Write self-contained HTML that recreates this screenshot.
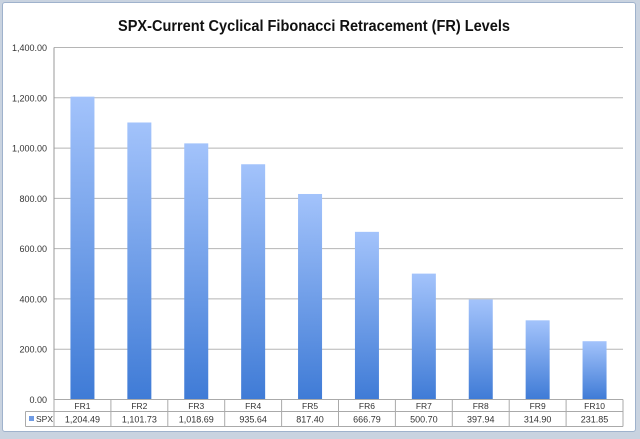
<!DOCTYPE html>
<html><head><meta charset="utf-8"><style>
html,body{margin:0;padding:0;background:#c9d3e0;}
body{width:640px;height:439px;overflow:hidden;position:relative;font-family:"Liberation Sans",sans-serif;}
#frame{position:absolute;left:2px;top:2px;width:632px;height:428px;background:#fff;border:1px solid #9fb2cc;border-radius:3px;}
</style></head><body>
<div id="frame"></div>
<svg id="chart" width="640" height="439" style="position:absolute;left:0;top:0">
<defs><linearGradient id="bg" x1="0" y1="0" x2="0" y2="1"><stop offset="0" stop-color="#a3c3fb"/><stop offset="1" stop-color="#3f7bd6"/></linearGradient></defs>
<text x="314" y="31" text-anchor="middle" font-size="16" font-weight="bold" fill="#111" textLength="392" lengthAdjust="spacingAndGlyphs">SPX-Current Cyclical Fibonacci Retracement (FR) Levels</text>
<g id="grid"></g><g id="bars"></g><g id="table"></g>
</svg>
<script>
const categories=["FR1","FR2","FR3","FR4","FR5","FR6","FR7","FR8","FR9","FR10"];
const values=[1204.49,1101.73,1018.69,935.64,817.40,666.79,500.70,397.94,314.90,231.85];
const valueLabels=["1,204.49","1,101.73","1,018.69","935.64","817.40","666.79","500.70","397.94","314.90","231.85"];
const yTicks=[0,200,400,600,800,1000,1200,1400];
const yTickLabels=["0.00","200.00","400.00","600.00","800.00","1,000.00","1,200.00","1,400.00"];
const NS="http://www.w3.org/2000/svg";
const L=54,R=623,T=47.5,B=399.5,yMax=1400;
const y=v=>B-(v/yMax)*(B-T);
const bw=(R-L)/categories.length;
const x=i=>L+i*bw;
function mk(tag,attrs,parent,text){const e=document.createElementNS(NS,tag);for(const k in attrs)e.setAttribute(k,attrs[k]);if(text!=null)e.textContent=text;parent.appendChild(e);return e;}
const grid=document.getElementById('grid'),bars=document.getElementById('bars'),table=document.getElementById('table');
yTicks.forEach((t,i)=>{
  if(t>0){const g=mk('line',{x1:L,x2:R,y1:y(t),y2:y(t),stroke:'#b5b5b5','stroke-width':1},grid);
  
  }
  const lb=mk('text',{x:47,y:y(t)+3.5,'text-anchor':'end','font-size':9,fill:'#333'},grid,yTickLabels[i]);
  
  
});
const ax=mk('line',{x1:L,x2:L,y1:T,y2:B,stroke:'#999'},grid);


values.forEach((v,i)=>{
  const r=mk('rect',{x:x(i)+bw/2-12,y:y(v),width:24,height:B-y(v),fill:'url(#bg)'},bars);
  
  
});
const r1=399.5,r2=411.5,r3=426.5,tl=25.5;
[[L,R,r1],[tl,R,r2],[tl,R,r3]].forEach(a=>mk('line',{x1:a[0],x2:a[1],y1:a[2],y2:a[2],stroke:'#aaa'},table));
mk('line',{x1:tl,x2:tl,y1:r2,y2:r3,stroke:'#aaa'},table);
for(let i=0;i<=categories.length;i++){mk('line',{x1:x(i),x2:x(i),y1:r1,y2:r3,stroke:'#aaa'},table);}
categories.forEach((c,i)=>{
  const t=mk('text',{x:x(i)+bw/2,y:409,'text-anchor':'middle','font-size':8.5,fill:'#333'},table,c);
  
  
  const v=mk('text',{x:x(i)+bw/2,y:422.5,'text-anchor':'middle','font-size':9,fill:'#333'},table,valueLabels[i]);
  
  
});
const key=mk('rect',{x:29,y:416,width:5,height:5,fill:'#6f9be4'},table);


const kt=mk('text',{x:36,y:422,'font-size':8.5,fill:'#333'},table,'SPX');


</script>
</body></html>
